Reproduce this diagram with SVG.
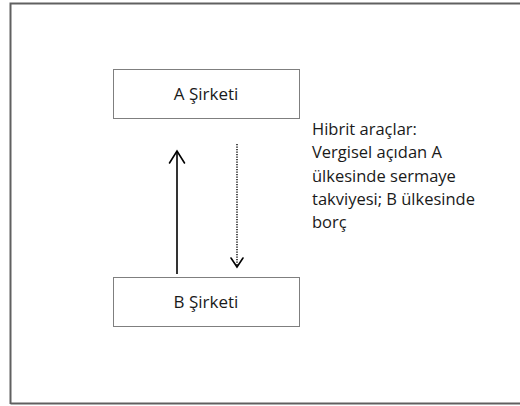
<svg xmlns="http://www.w3.org/2000/svg" width="520" height="406" viewBox="0 0 520 406">
<defs>
<style>
.box{fill:#ffffff;stroke:#7f7f7f;stroke-width:1}
.lbl{font-family:"Open Sans","Liberation Sans",sans-serif;font-size:17px;fill:#1a1a1a}
.note{font-family:"Open Sans","Liberation Sans",sans-serif;font-size:16.5px;fill:#1a1a1a}
.solid{stroke:#000;stroke-width:1.6;fill:none}
.dot{stroke:#000;stroke-width:1.4;fill:none;stroke-dasharray:1.2 1.3}
.head{stroke:#000;stroke-width:1.6;fill:none;stroke-linecap:round;stroke-linejoin:miter}
</style>
</defs>
<rect x="0" y="0" width="520" height="406" fill="#ffffff"/>
<path d="M10.5,404 V3.5 H520 M10.5,403.5 H520" fill="none" stroke="#606060" stroke-width="2"/>
<g id="nodeA">
<rect class="box" x="113.5" y="69.5" width="186" height="49"/>
<text class="lbl" x="206" y="100" text-anchor="middle">A Şirketi</text>
</g>
<g id="nodeB">
<rect class="box" x="113.5" y="277.5" width="186" height="49"/>
<text class="lbl" x="206" y="308" text-anchor="middle">B Şirketi</text>
</g>
<g id="note">
<text class="note" x="312" y="135">Hibrit araçlar:</text>
<text class="note" x="312" y="158.3">Vergisel açıdan A</text>
<text class="note" x="312" y="181.7">ülkesinde sermaye</text>
<text class="note" x="312" y="205">takviyesi; B ülkesinde</text>
<text class="note" x="312" y="228.3">borç</text>
</g>
<g id="connectors">
<line class="solid" x1="177" y1="274" x2="177" y2="151"/>
<polyline class="head" points="169.5,163 177,151 184.5,163"/>
<line class="dot" x1="237" y1="144" x2="237" y2="266"/>
<polyline class="head" points="231,258 237,267 243,258"/>
</g>
</svg>
